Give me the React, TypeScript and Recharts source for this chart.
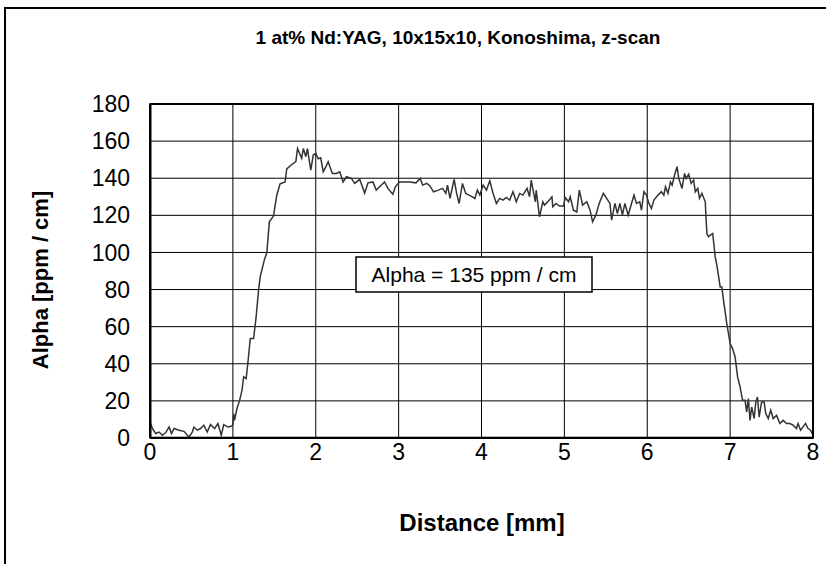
import React from "react";
import {
  LineChart,
  Line,
  XAxis,
  YAxis,
  CartesianGrid,
} from "recharts";

// z-scan: absorption vs. position in the crystal
const distance = [
  0.0, 0.03, 0.07, 0.11, 0.15, 0.19, 0.23, 0.26, 0.29, 0.35, 0.41, 0.47, 0.51, 0.53, 0.57,
  0.61, 0.65, 0.69, 0.73, 0.78, 0.82, 0.86, 0.89, 0.94, 0.98, 1.0, 1.01, 1.02, 1.05, 1.08,
  1.11, 1.13, 1.16, 1.18, 1.21, 1.25, 1.28, 1.31, 1.33, 1.38, 1.41, 1.44, 1.49, 1.53, 1.57,
  1.63, 1.65, 1.7, 1.76, 1.78, 1.83, 1.85, 1.88, 1.9, 1.92, 1.94, 1.97, 2.0, 2.03, 2.06,
  2.09, 2.12, 2.15, 2.2, 2.25, 2.29, 2.33, 2.37, 2.43, 2.47, 2.53, 2.59, 2.63, 2.69, 2.73,
  2.77, 2.83, 2.87, 2.93, 2.96, 3.01, 3.07, 3.13, 3.21, 3.26, 3.29, 3.34, 3.38, 3.42, 3.48,
  3.53, 3.57, 3.59, 3.62, 3.67, 3.7, 3.73, 3.77, 3.81, 3.85, 3.89, 3.92, 3.95, 3.98, 4.02,
  4.06, 4.1, 4.14, 4.18, 4.22, 4.26, 4.3, 4.34, 4.38, 4.42, 4.46, 4.5, 4.55, 4.58, 4.6,
  4.63, 4.65, 4.66, 4.7, 4.74, 4.76, 4.8, 4.85, 4.86, 4.9, 4.94, 4.99, 5.01, 5.05, 5.07,
  5.11, 5.15, 5.18, 5.22, 5.27, 5.31, 5.34, 5.38, 5.42, 5.47, 5.51, 5.55, 5.57, 5.61, 5.64,
  5.67, 5.7, 5.73, 5.77, 5.81, 5.84, 5.87, 5.91, 5.93, 5.96, 5.99, 6.02, 6.05, 6.08, 6.13,
  6.17, 6.2, 6.22, 6.25, 6.28, 6.3, 6.33, 6.36, 6.38, 6.42, 6.45, 6.47, 6.5, 6.53, 6.56,
  6.58, 6.61, 6.63, 6.66, 6.7, 6.71, 6.72, 6.74, 6.76, 6.79, 6.82, 6.84, 6.88, 6.9, 6.92,
  6.96, 7.0, 7.03, 7.06, 7.09, 7.12, 7.15, 7.18, 7.2, 7.22, 7.24, 7.26, 7.29, 7.31, 7.33,
  7.35, 7.38, 7.41, 7.43, 7.46, 7.49, 7.52, 7.56, 7.6, 7.64, 7.68, 7.72, 7.76, 7.8, 7.82,
  7.85, 7.88, 7.91, 7.94, 7.97, 8.0,
];

const alpha = [
  8.6, 5.1, 2.4, 3.2, 1.5, 2.9, 5.9, 2.4, 5.1, 4.2, 3.6, 0.5, 3.2, 5.9, 4.2,
  5.1, 6.9, 3.2, 7.2, 5.1, 7.8, 1.5, 7.2, 5.9, 6.3, 6.9, 13, 9.5, 16, 20,
  25.7, 33, 32, 40, 53.6, 53.6, 65, 79.7, 87, 96, 100, 116.5, 119.6, 131, 137,
  138, 145, 147, 149, 156, 150.7, 156, 151.6, 156, 150, 144.4, 152.5, 153.4, 150.5, 151,
  143.5, 146, 148.9, 142.6, 142.6, 143.5, 138, 140.8, 139.9, 137.2, 139.4, 132, 137.5, 138, 133.6,
  135.4, 138, 134.5, 131.4, 135.4, 138, 138, 138, 137.5, 139.9, 136.3, 137.2, 135.7, 132.7, 133.6,
  134.5, 131.8, 136.3, 129.1, 139.4, 131.8, 126.4, 137.2, 131.8, 130.9, 130, 129.1, 133.6, 130.9, 136.3,
  133.6, 138.6, 131.8, 126.4, 129.1, 128.2, 129.6, 128.2, 132.7, 127.3, 131.8, 130.9, 134.5, 130, 139,
  131.8, 127.3, 133.6, 119.2, 127.3, 125.5, 127.3, 130, 124.6, 126.4, 125, 125, 129.6, 127.3, 130,
  122.8, 121.8, 133.6, 125.5, 127.3, 122.8, 116.5, 120.1, 126.4, 131.8, 129.1, 126.4, 117.4, 126.4, 121,
  126.4, 120.1, 126.4, 120.1, 126.4, 130.9, 126.4, 127.3, 122.8, 132.7, 130.9, 126.4, 123.7, 128.2, 130.9,
  132.7, 130.9, 135.4, 131.8, 138, 136.3, 141.7, 146.2, 139.9, 134.5, 142.6, 139.9, 142.2, 137.2, 139,
  132.7, 134.5, 129.1, 131.8, 127.3, 118, 110, 108.4, 109.3, 110.2, 97.6, 93.1, 81.4, 81.4, 74.3,
  61.7, 50.9, 48.2, 43.7, 32.9, 27.5, 20.3, 20.3, 14, 21.3, 9.5, 16.7, 10.5, 19.4, 22.1,
  11.3, 19.4, 19.4, 13.2, 10.5, 15, 10.5, 12.2, 7.8, 9.5, 7.8, 7.8, 6.9, 5.1, 7.8,
  4.2, 6, 7.8, 5.1, 4.2, 1.5,
];

const xTicks = [0, 1, 2, 3, 4, 5, 6, 7, 8];
const yTicks = [0, 20, 40, 60, 80, 100, 120, 140, 160, 180];

const title = "1 at% Nd:YAG, 10x15x10, Konoshima, z-scan";
const xLabel = "Distance [mm]";
const yLabel = "Alpha [ppm / cm]";
const note = "Alpha = 135 ppm / cm";

const data = distance.map((d, i) => ({ distance: d, alpha: alpha[i] }));

const font = "'Liberation Sans', Arial, sans-serif";

export default function App() {
  return (
    <div
      style={{
        position: "absolute",
        left: 0,
        top: 0,
        width: 826,
        height: 564,
        overflow: "hidden",
        background: "#fff",
        fontFamily: font,
      }}
    >
      <LineChart
        width={826}
        height={564}
        data={data}
        margin={{ top: 104, right: 13, bottom: 0, left: 0 }}
      >
        <CartesianGrid stroke="#000" strokeWidth={1} />
        <XAxis
          dataKey="distance"
          type="number"
          domain={[0, 8]}
          ticks={xTicks}
          interval={0}
          height={126}
          tickLine={false}
          axisLine={{ stroke: "#000", strokeWidth: 2 }}
          tick={{ fill: "#000", fontSize: 23, fontFamily: font }}
          tickMargin={0}
        />
        <YAxis
          type="number"
          domain={[0, 180]}
          ticks={yTicks}
          interval={0}
          width={150}
          tickLine={false}
          axisLine={{ stroke: "#000", strokeWidth: 2 }}
          tick={{ fill: "#000", fontSize: 23, fontFamily: font }}
          tickMargin={14}
        />
        <Line
          type="linear"
          dataKey="alpha"
          stroke="#333"
          strokeWidth={1.5}
          dot={false}
          isAnimationActive={false}
        />
      </LineChart>
      <svg
        width={826}
        height={564}
        style={{ position: "absolute", left: 0, top: 0, pointerEvents: "none" }}
      >
        <rect x={5} y={8} width={840} height={600} fill="none" stroke="#000" strokeWidth={2} />
        <rect x={150.5} y={104} width={662.5} height={333.7} fill="none" stroke="#000" strokeWidth={2} />
        <text x={458} y={44} textAnchor="middle" fontSize={19} fontWeight="bold" fontFamily={font}>
          {title}
        </text>
        <text
          x={0}
          y={0}
          transform="translate(48 280) rotate(-90)"
          textAnchor="middle"
          fontSize={22}
          fontWeight="bold"
          fontFamily={font}
        >
          {yLabel}
        </text>
        <text x={482} y={531} textAnchor="middle" fontSize={24} fontWeight="bold" fontFamily={font}>
          {xLabel}
        </text>
        <rect x={356} y={257} width={236} height={35} fill="#fff" stroke="#000" strokeWidth={1.5} />
        <text x={474} y={282} textAnchor="middle" fontSize={21} fontFamily={font}>
          {note}
        </text>
      </svg>
    </div>
  );
}
